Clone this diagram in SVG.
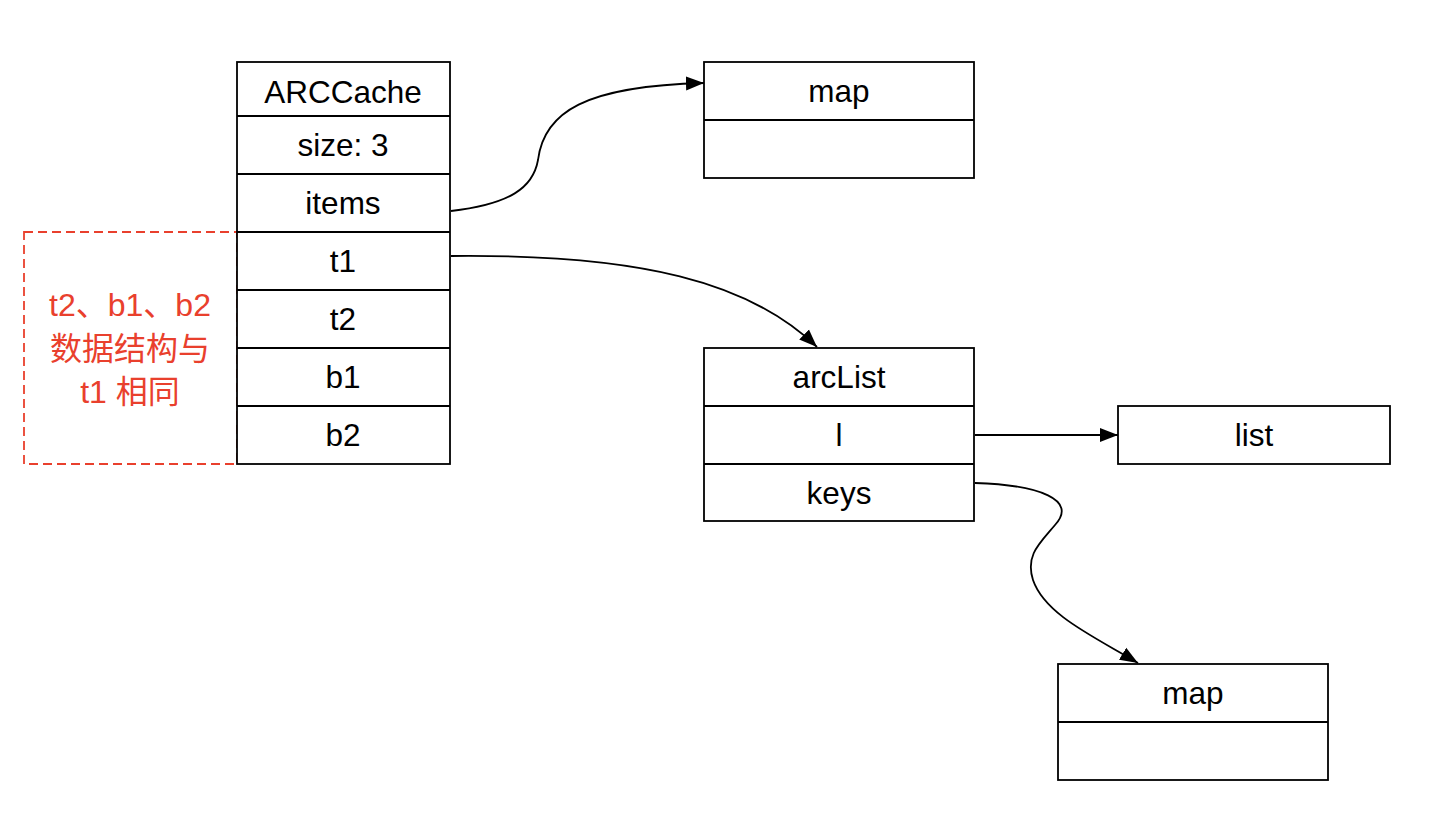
<svg xmlns="http://www.w3.org/2000/svg" width="1448" height="830" viewBox="0 0 1448 830">
<style>
  .box { fill: #ffffff; stroke: #000000; stroke-width: 1.8; }
  .div { stroke: #000000; stroke-width: 1.8; }
  .t { font-family: "Liberation Sans", Arial, sans-serif; font-size: 31.5px; fill: #000000; text-anchor: middle; }
  .red { font-family: "Liberation Sans", "Noto Sans CJK SC", sans-serif; font-size: 32px; fill: #E9402D; text-anchor: middle; }
  .edge { fill: none; stroke: #000000; stroke-width: 1.8; marker-end: url(#arrow); }
</style>
<defs>
  <marker id="arrow" markerUnits="userSpaceOnUse" markerWidth="20" markerHeight="16" refX="18" refY="8" orient="auto">
    <path d="M0,1 L18,8 L0,15 Z" fill="#000000"/>
  </marker>
</defs>
<rect width="1448" height="830" fill="#ffffff"/>

<g id="note">
  <rect x="24" y="232" width="213" height="232" fill="none" stroke="#E9402D" stroke-width="1.8" stroke-dasharray="9 5"/>
  <text class="red" x="130" y="316">t2、b1、b2</text>
  <text class="red" x="130" y="360">数据结构与</text>
  <text class="red" x="130" y="403">t1 相同</text>
</g>

<g id="arccache">
  <rect class="box" x="237" y="62" width="213" height="402"/>
  <line class="div" x1="237" y1="116" x2="450" y2="116"/>
  <line class="div" x1="237" y1="174" x2="450" y2="174"/>
  <line class="div" x1="237" y1="232" x2="450" y2="232"/>
  <line class="div" x1="237" y1="290" x2="450" y2="290"/>
  <line class="div" x1="237" y1="348" x2="450" y2="348"/>
  <line class="div" x1="237" y1="406" x2="450" y2="406"/>
  <text class="t" x="343" y="103">ARCCache</text>
  <text class="t" x="343" y="156">size: 3</text>
  <text class="t" x="343" y="214">items</text>
  <text class="t" x="343" y="272">t1</text>
  <text class="t" x="343" y="330">t2</text>
  <text class="t" x="343" y="388">b1</text>
  <text class="t" x="343" y="446">b2</text>
</g>

<g id="map1">
  <rect class="box" x="704" y="62" width="270" height="116"/>
  <line class="div" x1="704" y1="120" x2="974" y2="120"/>
  <text class="t" x="839" y="102">map</text>
</g>

<g id="arclist">
  <rect class="box" x="704" y="348" width="270" height="173"/>
  <line class="div" x1="704" y1="406" x2="974" y2="406"/>
  <line class="div" x1="704" y1="464" x2="974" y2="464"/>
  <text class="t" x="839" y="388">arcList</text>
  <text class="t" x="839" y="446">l</text>
  <text class="t" x="839" y="504">keys</text>
</g>

<g id="list">
  <rect class="box" x="1118" y="406" width="272" height="58"/>
  <text class="t" x="1254" y="446">list</text>
</g>

<g id="map2">
  <rect class="box" x="1058" y="664" width="270" height="116"/>
  <line class="div" x1="1058" y1="722" x2="1328" y2="722"/>
  <text class="t" x="1193" y="704">map</text>
</g>

<g id="connectors">
  <path class="edge" d="M451,211 C510,204 533,188 538,160 C544,112 585,86 704,83"/>
  <path class="edge" d="M451,256 C640,254 750,282 817,347"/>
  <path class="edge" d="M975,435 L1118,435"/>
  <path class="edge" d="M975,483 C1040,485 1078,500 1055,525 C1040,543 1025,555 1033,580 C1045,615 1095,637 1138,663"/>
</g>
</svg>
